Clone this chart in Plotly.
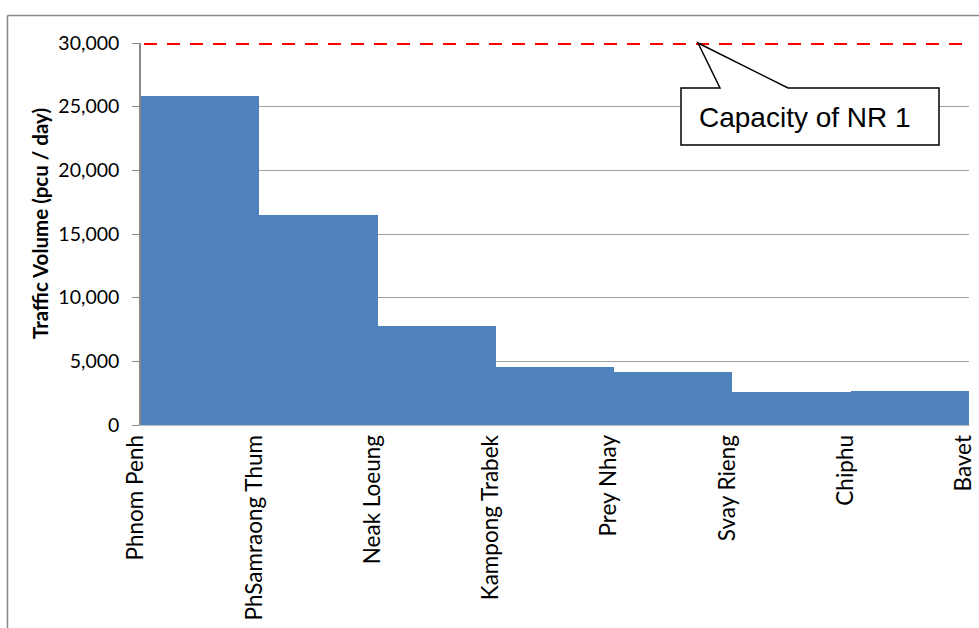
import plotly.graph_objects as go

# Stations along National Road 1
stations = ["Phnom Penh", "PhSamraong Thum", "Neak Loeung", "Kampong Trabek",
            "Prey Nhay", "Svay Rieng", "Chiphu", "Bavet"]
# Traffic volume (pcu/day) on each section between consecutive stations
section_volume = [25800, 16500, 7750, 4520, 4170, 2560, 2640]
capacity = 30000
y_ticks = [0, 5000, 10000, 15000, 20000, 25000, 30000]

W, H = 979, 628
L, R, T, B = 141, 10, 43, 203
pw, ph = W - L - R, H - T - B

def px_x(p):
    return (p - L) / pw

def px_y(p):
    return (H - B - p) / ph

fig = go.Figure()

# Each section drawn as a block spanning from one station to the next
fig.add_trace(go.Bar(
    x=list(range(len(section_volume))),
    y=section_volume,
    width=1, offset=0,
    marker=dict(color="#4F81BD", line=dict(width=0)),
    hoverinfo="y",
))

shapes = [
    # road capacity line
    dict(type="line", xref="paper", yref="y", x0=px_x(144), x1=1, y0=capacity, y1=capacity,
         line=dict(color="#FF0000", width=4, dash="13px,10px"), layer="above"),
    # outer chart frame
    dict(type="line", xref="paper", yref="paper", x0=px_x(7.5), x1=px_x(990),
         y0=px_y(15.5), y1=px_y(15.5), line=dict(color="#888888", width=1.5)),
    dict(type="line", xref="paper", yref="paper", x0=px_x(7.5), x1=px_x(7.5),
         y0=px_y(15.5), y1=px_y(640), line=dict(color="#888888", width=1.5)),
]

# Callout box with pointer to the capacity line
bx0, bx1, by0, by1 = 681, 939, 88, 145
tipx, tipy = 698, 43
b1, b2 = 720, 788
path = (f"M {px_x(bx0)},{px_y(by0)} L {px_x(b1)},{px_y(by0)} L {px_x(tipx)},{px_y(tipy)} "
        f"L {px_x(b2)},{px_y(by0)} L {px_x(bx1)},{px_y(by0)} L {px_x(bx1)},{px_y(by1)} "
        f"L {px_x(bx0)},{px_y(by1)} Z")
shapes.append(dict(type="path", xref="paper", yref="paper", path=path,
                   fillcolor="white", line=dict(color="black", width=1.5), layer="above"))

fig.update_layout(
    width=W, height=H,
    margin=dict(l=L, r=R, t=T, b=B, autoexpand=False),
    paper_bgcolor="white", plot_bgcolor="white",
    showlegend=False,
    shapes=shapes,
    annotations=[
        dict(text="Capacity of NR 1", xref="paper", yref="paper",
             x=px_x(697), y=px_y((by0 + by1) / 2 + 1), xanchor="left", yanchor="middle",
             showarrow=False,
             font=dict(family="Liberation Sans, Arial", size=28, color="black")),
        dict(text="<b>Traffic Volume (pcu / day)</b>", xref="paper", yref="paper",
             x=px_x(40), y=px_y(224), xanchor="center", yanchor="middle",
             textangle=-90, showarrow=False,
             font=dict(family="Lato, Open Sans, sans-serif", size=20.5, color="black")),
    ],
    bargap=0,
    xaxis=dict(
        range=[0, len(stations) - 1],
        tickmode="array",
        tickvals=list(range(len(stations))),
        ticktext=stations,
        tickangle=-90,
        automargin=False,
        ticklabeloverflow="allow",
        ticklabelshift=-5,
        showgrid=False, zeroline=False,
        showline=True, linecolor="#BBBBBB", linewidth=1,
        ticks="", ticklen=0,
        tickfont=dict(family="Lato, Open Sans, sans-serif", size=22.5, color="black"),
    ),
    yaxis=dict(
        range=[0, 30000],
        tickmode="array",
        tickvals=y_ticks,
        ticktext=[f"{v:,}" for v in y_ticks],
        automargin=False,
        ticklabelstandoff=9,
        showgrid=True, gridcolor="#A0A0A0", gridwidth=1,
        zeroline=False,
        showline=True, linecolor="#888888", linewidth=1.5,
        ticks="outside", ticklen=7, tickcolor="#888888",
        tickfont=dict(family="Lato, Open Sans, sans-serif", size=19.5, color="black"),
    ),
)

fig.write_html("out.html")
